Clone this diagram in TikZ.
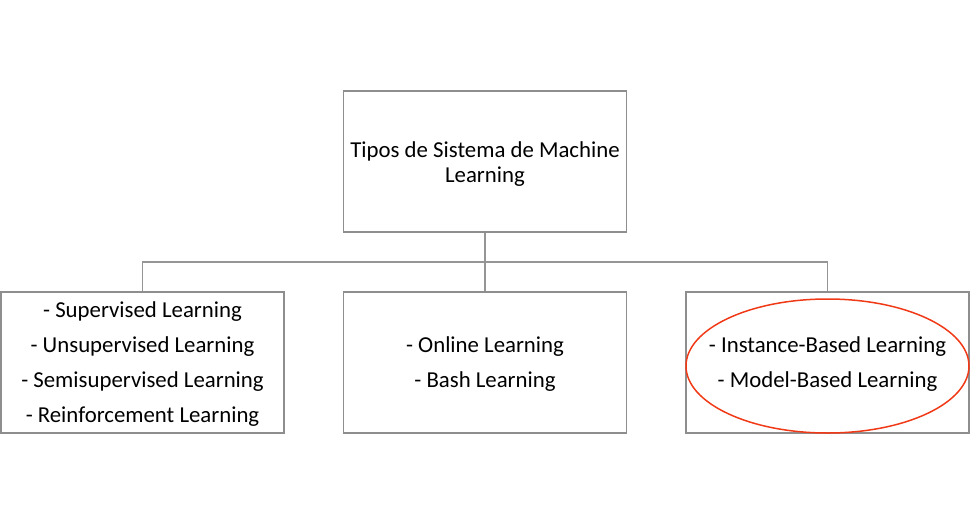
\documentclass[tikz,border=0pt]{standalone}
\usepackage{fontspec}
\usetikzlibrary{shapes.geometric}
\setmainfont{Carlito}
\definecolor{boxgray}{HTML}{8E8E8E}
\definecolor{linegray}{HTML}{959595}
\definecolor{ringred}{HTML}{F03A17}
\begin{document}
\begin{tikzpicture}[x=1pt,y=-1pt,
  box/.style={draw=boxgray,line width=1.8pt,minimum width=283pt,minimum height=141pt,inner sep=0pt},
  toptext/.style={align=center,inner sep=0pt,text=black,font=\fontsize{22.8}{25}\selectfont},
  lowtext/.style={align=center,inner sep=0pt,text=black,font=\fontsize{22.8}{35}\selectfont},
  link/.style={draw=linegray,line width=1.6pt}]
\useasboundingbox (0,0) rectangle (970,525);
\node[box] (top) at (485,161.5) {};
\node[box] (left) at (142.5,362.5) {};
\node[box] (mid) at (485,362.5) {};
\node[box] (right) at (827.5,362.5) {};
\node[toptext,yshift=-3pt] (toplbl) at (top.center) {Tipos de Sistema de Machine\\Learning};
\node[lowtext,yshift=-2pt] (leftlbl) at (left.center) {- Supervised Learning\\- Unsupervised Learning\\- Semisupervised Learning\\- Reinforcement Learning};
\node[lowtext,yshift=-2pt] (midlbl) at (mid.center) {- Online Learning\\- Bash Learning};
\node[lowtext,yshift=-2pt] (rightlbl) at (right.center) {- Instance-Based Learning\\- Model-Based Learning};
\coordinate (bus) at (485,262);
\draw[link] (top.south) -- (bus);
\draw[link] (left.north) |- (bus) -| (right.north);
\draw[link] (bus) -- (mid.north);
\node[draw=ringred,line width=1.5pt,ellipse,minimum width=283pt,minimum height=134pt,inner sep=0pt] (ring) at (827.5,366) {};
\end{tikzpicture}
\end{document}
